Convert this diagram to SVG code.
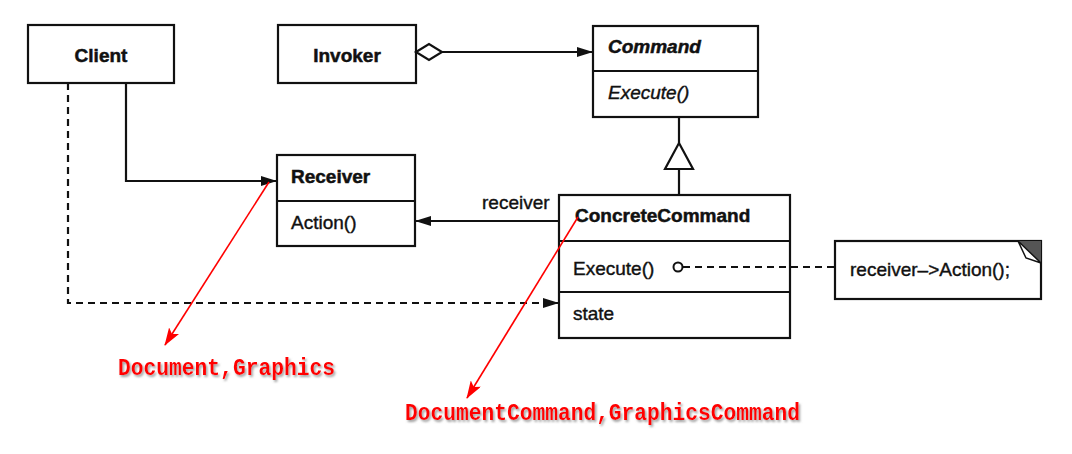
<svg xmlns="http://www.w3.org/2000/svg" width="1072" height="454" viewBox="0 0 1072 454">
<style>
.box{fill:#fff;stroke:#111;stroke-width:2.2}
.div{stroke:#111;stroke-width:2.2}
.t{font-family:"Liberation Sans",Arial,sans-serif;font-size:19px;fill:#111;stroke:#111;stroke-width:0.4}
.b{font-weight:bold;stroke-width:0.5}
.i{font-style:italic}
.ln{fill:none;stroke:#111;stroke-width:2.2}
.dash{stroke-dasharray:7 5}
.red{fill:none;stroke:#f00;stroke-width:1.6}
.rt{font-family:"Liberation Mono","DejaVu Sans Mono",monospace;font-size:23px;font-weight:bold;fill:#f00;filter:url(#sh)}
</style>
<defs>
<marker id="ah" markerUnits="userSpaceOnUse" markerWidth="16" markerHeight="10" refX="16" refY="5" orient="auto">
<path d="M0,0 L16,5 L0,10 z" fill="#111"/>
</marker>
<marker id="rah" markerUnits="userSpaceOnUse" markerWidth="18" markerHeight="12" refX="17" refY="6" orient="auto">
<path d="M0,0 L18,6 L0,12 L4,6 z" fill="#f00"/>
</marker>
<filter id="sh" x="-5%" y="-30%" width="110%" height="160%">
<feDropShadow dx="1.5" dy="2" stdDeviation="1.2" flood-color="#888" flood-opacity="0.8"/>
</filter>
</defs>

<g id="client">
<rect class="box" x="28" y="25" width="146" height="58"/>
<text class="t b" x="101" y="62" text-anchor="middle">Client</text>
</g>

<g id="invoker">
<rect class="box" x="278" y="25" width="138" height="58"/>
<text class="t b" x="347" y="62" text-anchor="middle">Invoker</text>
</g>

<g id="command">
<rect class="box" x="593" y="26" width="165" height="91"/>
<line class="div" x1="593" y1="71" x2="758" y2="71"/>
<text class="t b i" x="608" y="53">Command</text>
<text class="t i" x="608" y="99">Execute()</text>
</g>

<g id="receiver">
<rect class="box" x="277" y="155" width="138" height="91"/>
<line class="div" x1="277" y1="201" x2="415" y2="201"/>
<text class="t b" x="291" y="183">Receiver</text>
<text class="t" x="291" y="229">Action()</text>
</g>

<g id="concretecommand">
<rect class="box" x="559" y="195" width="231" height="143"/>
<line class="div" x1="559" y1="241" x2="790" y2="241"/>
<line class="div" x1="559" y1="292" x2="790" y2="292"/>
<text class="t b" x="575" y="222">ConcreteCommand</text>
<text class="t" x="573" y="275">Execute()</text>
<text class="t" x="573" y="320">state</text>
</g>

<g id="note">
<rect class="box" x="835" y="241" width="206" height="58"/>
<polygon points="1018,241 1041,241 1041,263" fill="#555"/>
<polygon points="1018,241 1026,258 1041,263" fill="#fff" stroke="#111" stroke-width="1.5"/>
<text class="t" x="850" y="276">receiver–&gt;Action();</text>
</g>

<g id="connectors">
<path class="ln" d="M442,52 L593,52" marker-end="url(#ah)"/>
<polygon points="416,52 429,44 442,52 429,60" fill="#fff" stroke="#111" stroke-width="2.2"/>
<path class="ln" d="M126,83 L126,181 L277,181" marker-end="url(#ah)"/>
<path class="ln dash" d="M68,83 L68,303 L559,303" marker-end="url(#ah)"/>
<path class="ln" d="M679,117 L679,143 M679,169 L679,195"/>
<polygon points="679,143 693,169 665,169" fill="#fff" stroke="#111" stroke-width="2.2"/>
<path class="ln" d="M559,221 L415,221" marker-end="url(#ah)"/>
<text class="t" x="482" y="209">receiver</text>
<path class="ln dash" d="M683,267 L835,267"/>
<circle cx="678" cy="267" r="4.5" fill="#fff" stroke="#111" stroke-width="2"/>
</g>

<g id="annotations">
<path class="red" d="M269,182 L165,345" marker-end="url(#rah)"/>
<path class="red" d="M578,217 L467,398" marker-end="url(#rah)"/>
<text class="rt" x="118" y="375" textLength="217" lengthAdjust="spacingAndGlyphs">Document,Graphics</text>
<text class="rt" x="405" y="420" textLength="395" lengthAdjust="spacingAndGlyphs">DocumentCommand,GraphicsCommand</text>
</g>
</svg>
